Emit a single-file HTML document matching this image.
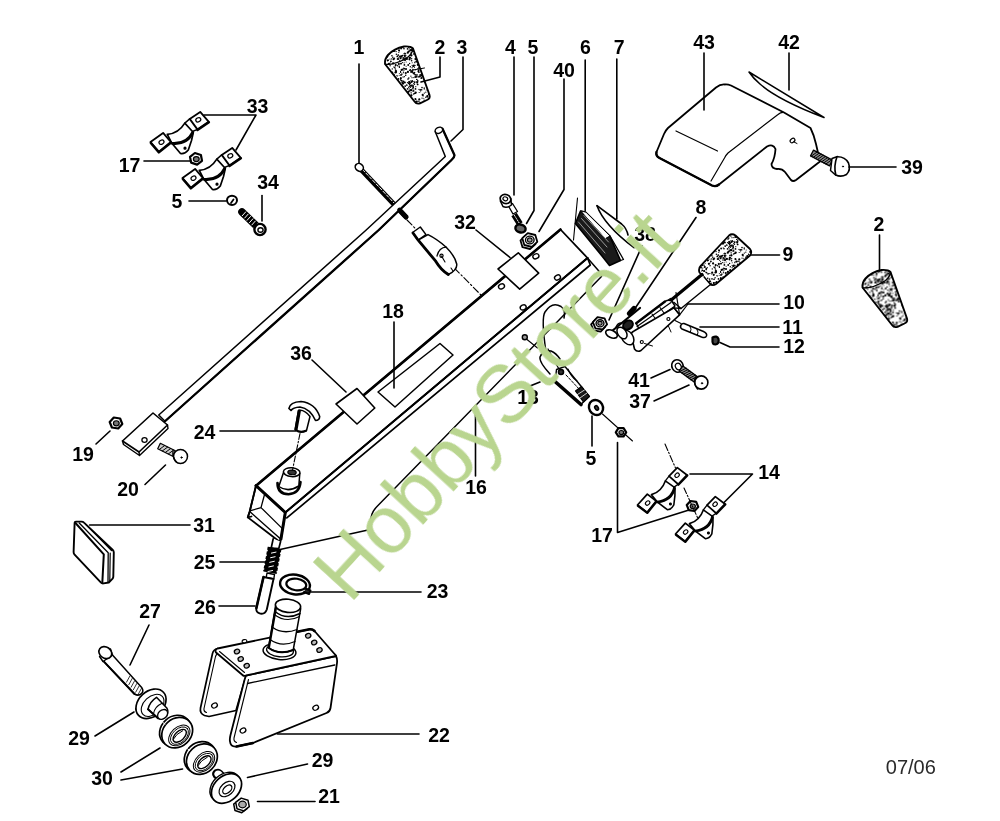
<!DOCTYPE html>
<html lang="it"><head><meta charset="utf-8"><title>HobbyStore.it - esploso 07/06</title>
<style>
html,body{margin:0;padding:0;background:#fff;}
body{width:1000px;height:821px;overflow:hidden;font-family:"Liberation Sans",sans-serif;}
svg{display:block}
.d *{stroke:#000;stroke-linecap:round;stroke-linejoin:round}
.lb text{font-family:"Liberation Sans",sans-serif;font-weight:bold;fill:#000;text-anchor:middle}
</style></head><body>
<svg width="1000" height="821" viewBox="0 0 1000 821">
<defs>
<pattern id="spk" width="40" height="40" patternUnits="userSpaceOnUse">
<rect width="40" height="40" fill="#fff" stroke="none"/>
<circle cx="13.0" cy="6.0" r="1.1" fill="#000" stroke="none"/>
<circle cx="1.9" cy="32.9" r="0.5" fill="#000" stroke="none"/>
<circle cx="14.6" cy="2.3" r="0.9" fill="#000" stroke="none"/>
<circle cx="8.6" cy="3.4" r="0.8" fill="#000" stroke="none"/>
<circle cx="2.8" cy="3.6" r="0.8" fill="#000" stroke="none"/>
<circle cx="2.4" cy="22.6" r="0.6" fill="#000" stroke="none"/>
<circle cx="25.2" cy="23.3" r="0.5" fill="#000" stroke="none"/>
<circle cx="23.1" cy="15.9" r="0.6" fill="#000" stroke="none"/>
<circle cx="1.9" cy="34.3" r="0.7" fill="#000" stroke="none"/>
<circle cx="16.8" cy="21.6" r="0.9" fill="#000" stroke="none"/>
<circle cx="12.3" cy="32.6" r="0.6" fill="#000" stroke="none"/>
<circle cx="4.1" cy="22.8" r="0.6" fill="#000" stroke="none"/>
<circle cx="14.9" cy="21.9" r="0.5" fill="#000" stroke="none"/>
<circle cx="22.6" cy="24.8" r="0.8" fill="#000" stroke="none"/>
<circle cx="27.2" cy="17.1" r="0.7" fill="#000" stroke="none"/>
<circle cx="18.6" cy="36.9" r="0.7" fill="#000" stroke="none"/>
<circle cx="12.0" cy="31.8" r="1.1" fill="#000" stroke="none"/>
<circle cx="31.2" cy="3.3" r="0.7" fill="#000" stroke="none"/>
<circle cx="21.0" cy="35.0" r="1.1" fill="#000" stroke="none"/>
<circle cx="18.0" cy="24.4" r="0.5" fill="#000" stroke="none"/>
<circle cx="4.7" cy="16.7" r="0.7" fill="#000" stroke="none"/>
<circle cx="6.1" cy="19.6" r="0.5" fill="#000" stroke="none"/>
<circle cx="38.5" cy="3.1" r="0.9" fill="#000" stroke="none"/>
<circle cx="22.9" cy="35.0" r="0.7" fill="#000" stroke="none"/>
<circle cx="13.6" cy="14.0" r="0.8" fill="#000" stroke="none"/>
<circle cx="23.2" cy="18.2" r="0.5" fill="#000" stroke="none"/>
<circle cx="37.8" cy="19.0" r="1.1" fill="#000" stroke="none"/>
<circle cx="2.6" cy="29.2" r="0.7" fill="#000" stroke="none"/>
<circle cx="25.9" cy="39.7" r="0.8" fill="#000" stroke="none"/>
<circle cx="11.4" cy="15.4" r="1.1" fill="#000" stroke="none"/>
<circle cx="13.9" cy="37.6" r="0.7" fill="#000" stroke="none"/>
<circle cx="6.7" cy="4.7" r="0.5" fill="#000" stroke="none"/>
<circle cx="8.7" cy="11.5" r="1.1" fill="#000" stroke="none"/>
<circle cx="9.9" cy="15.6" r="0.8" fill="#000" stroke="none"/>
<circle cx="3.2" cy="18.0" r="0.9" fill="#000" stroke="none"/>
<circle cx="11.1" cy="5.5" r="0.8" fill="#000" stroke="none"/>
<circle cx="34.6" cy="11.1" r="0.8" fill="#000" stroke="none"/>
<circle cx="39.5" cy="27.3" r="0.8" fill="#000" stroke="none"/>
<circle cx="38.3" cy="6.0" r="0.6" fill="#000" stroke="none"/>
<circle cx="6.1" cy="26.3" r="0.5" fill="#000" stroke="none"/>
<circle cx="19.4" cy="23.6" r="0.7" fill="#000" stroke="none"/>
<circle cx="11.3" cy="5.8" r="0.9" fill="#000" stroke="none"/>
<circle cx="14.8" cy="22.7" r="0.6" fill="#000" stroke="none"/>
<circle cx="27.6" cy="20.6" r="0.9" fill="#000" stroke="none"/>
<circle cx="26.2" cy="29.6" r="0.8" fill="#000" stroke="none"/>
<circle cx="36.0" cy="31.2" r="1.1" fill="#000" stroke="none"/>
<circle cx="31.9" cy="15.7" r="0.8" fill="#000" stroke="none"/>
<circle cx="15.8" cy="19.3" r="0.8" fill="#000" stroke="none"/>
<circle cx="2.5" cy="2.7" r="0.6" fill="#000" stroke="none"/>
<circle cx="17.6" cy="4.4" r="0.9" fill="#000" stroke="none"/>
<circle cx="2.1" cy="0.0" r="0.6" fill="#000" stroke="none"/>
<circle cx="21.5" cy="38.0" r="0.9" fill="#000" stroke="none"/>
<circle cx="1.0" cy="35.0" r="0.9" fill="#000" stroke="none"/>
<circle cx="15.0" cy="25.4" r="0.7" fill="#000" stroke="none"/>
<circle cx="24.1" cy="19.0" r="0.5" fill="#000" stroke="none"/>
<circle cx="34.0" cy="39.7" r="0.8" fill="#000" stroke="none"/>
<circle cx="19.2" cy="12.5" r="0.6" fill="#000" stroke="none"/>
<circle cx="4.1" cy="13.7" r="0.7" fill="#000" stroke="none"/>
<circle cx="19.1" cy="27.7" r="0.9" fill="#000" stroke="none"/>
<circle cx="0.9" cy="38.0" r="0.9" fill="#000" stroke="none"/>
<circle cx="14.5" cy="27.6" r="0.5" fill="#000" stroke="none"/>
<circle cx="30.3" cy="11.9" r="1.1" fill="#000" stroke="none"/>
<circle cx="34.5" cy="27.8" r="0.7" fill="#000" stroke="none"/>
<circle cx="20.7" cy="36.3" r="0.7" fill="#000" stroke="none"/>
<circle cx="30.9" cy="21.3" r="0.9" fill="#000" stroke="none"/>
<circle cx="13.2" cy="8.9" r="0.6" fill="#000" stroke="none"/>
<circle cx="32.2" cy="32.7" r="1.1" fill="#000" stroke="none"/>
<circle cx="32.1" cy="8.0" r="0.8" fill="#000" stroke="none"/>
<circle cx="14.2" cy="1.2" r="0.5" fill="#000" stroke="none"/>
<circle cx="31.6" cy="18.9" r="0.6" fill="#000" stroke="none"/>
<circle cx="27.7" cy="38.3" r="0.8" fill="#000" stroke="none"/>
<circle cx="32.3" cy="28.9" r="0.7" fill="#000" stroke="none"/>
<circle cx="38.2" cy="14.6" r="0.6" fill="#000" stroke="none"/>
<circle cx="4.1" cy="18.8" r="0.7" fill="#000" stroke="none"/>
<circle cx="8.2" cy="25.0" r="0.9" fill="#000" stroke="none"/>
<circle cx="33.6" cy="19.2" r="1.1" fill="#000" stroke="none"/>
<circle cx="13.8" cy="25.7" r="1.1" fill="#000" stroke="none"/>
<circle cx="4.8" cy="15.5" r="1.1" fill="#000" stroke="none"/>
<circle cx="30.0" cy="19.1" r="0.6" fill="#000" stroke="none"/>
<circle cx="17.4" cy="25.4" r="0.5" fill="#000" stroke="none"/>
<circle cx="32.0" cy="38.9" r="0.8" fill="#000" stroke="none"/>
<circle cx="18.5" cy="29.7" r="0.5" fill="#000" stroke="none"/>
<circle cx="29.0" cy="6.8" r="0.6" fill="#000" stroke="none"/>
<circle cx="1.1" cy="23.6" r="0.8" fill="#000" stroke="none"/>
<circle cx="32.3" cy="5.8" r="0.9" fill="#000" stroke="none"/>
<circle cx="39.2" cy="26.3" r="0.7" fill="#000" stroke="none"/>
<circle cx="6.2" cy="21.9" r="0.5" fill="#000" stroke="none"/>
<circle cx="0.6" cy="38.8" r="1.1" fill="#000" stroke="none"/>
<circle cx="4.1" cy="30.0" r="0.6" fill="#000" stroke="none"/>
<circle cx="17.4" cy="34.9" r="0.6" fill="#000" stroke="none"/>
<circle cx="1.1" cy="8.5" r="0.9" fill="#000" stroke="none"/>
<circle cx="9.6" cy="23.5" r="0.7" fill="#000" stroke="none"/>
<circle cx="21.8" cy="33.4" r="0.5" fill="#000" stroke="none"/>
<circle cx="36.4" cy="14.2" r="0.8" fill="#000" stroke="none"/>
<circle cx="26.5" cy="32.6" r="0.9" fill="#000" stroke="none"/>
<circle cx="16.8" cy="36.7" r="0.9" fill="#000" stroke="none"/>
<circle cx="5.2" cy="6.1" r="0.9" fill="#000" stroke="none"/>
<circle cx="0.7" cy="17.6" r="0.6" fill="#000" stroke="none"/>
<circle cx="24.3" cy="31.0" r="0.6" fill="#000" stroke="none"/>
<circle cx="6.9" cy="18.9" r="1.1" fill="#000" stroke="none"/>
<circle cx="4.8" cy="2.5" r="1.1" fill="#000" stroke="none"/>
<circle cx="20.7" cy="22.2" r="0.5" fill="#000" stroke="none"/>
<circle cx="35.3" cy="2.3" r="0.6" fill="#000" stroke="none"/>
<circle cx="11.1" cy="30.9" r="0.9" fill="#000" stroke="none"/>
<circle cx="18.1" cy="1.1" r="0.5" fill="#000" stroke="none"/>
<circle cx="17.7" cy="24.5" r="0.9" fill="#000" stroke="none"/>
<circle cx="24.2" cy="8.0" r="0.7" fill="#000" stroke="none"/>
<circle cx="18.1" cy="21.3" r="0.8" fill="#000" stroke="none"/>
<circle cx="20.3" cy="9.9" r="0.9" fill="#000" stroke="none"/>
<circle cx="35.1" cy="37.7" r="0.7" fill="#000" stroke="none"/>
<circle cx="36.9" cy="35.7" r="0.6" fill="#000" stroke="none"/>
<circle cx="33.6" cy="5.5" r="0.5" fill="#000" stroke="none"/>
<circle cx="15.7" cy="12.6" r="1.1" fill="#000" stroke="none"/>
<circle cx="9.6" cy="2.9" r="1.1" fill="#000" stroke="none"/>
<circle cx="12.1" cy="4.9" r="0.6" fill="#000" stroke="none"/>
<circle cx="37.6" cy="25.7" r="0.7" fill="#000" stroke="none"/>
<circle cx="5.7" cy="35.3" r="0.8" fill="#000" stroke="none"/>
<circle cx="8.8" cy="38.1" r="0.8" fill="#000" stroke="none"/>
<circle cx="35.4" cy="6.5" r="1.1" fill="#000" stroke="none"/>
<circle cx="33.3" cy="6.5" r="0.8" fill="#000" stroke="none"/>
<circle cx="39.8" cy="16.2" r="0.8" fill="#000" stroke="none"/>
<circle cx="7.8" cy="12.7" r="1.1" fill="#000" stroke="none"/>
<circle cx="14.6" cy="13.5" r="0.8" fill="#000" stroke="none"/>
<circle cx="17.6" cy="0.7" r="0.7" fill="#000" stroke="none"/>
<circle cx="20.7" cy="11.8" r="0.5" fill="#000" stroke="none"/>
<circle cx="4.5" cy="36.7" r="0.6" fill="#000" stroke="none"/>
<circle cx="38.9" cy="4.2" r="0.7" fill="#000" stroke="none"/>
<circle cx="10.9" cy="36.2" r="0.6" fill="#000" stroke="none"/>
<circle cx="10.8" cy="5.2" r="0.8" fill="#000" stroke="none"/>
<circle cx="34.0" cy="27.0" r="0.7" fill="#000" stroke="none"/>
<circle cx="16.2" cy="21.5" r="0.9" fill="#000" stroke="none"/>
<circle cx="22.8" cy="28.0" r="0.5" fill="#000" stroke="none"/>
<circle cx="11.2" cy="32.0" r="0.6" fill="#000" stroke="none"/>
<circle cx="17.0" cy="2.9" r="0.5" fill="#000" stroke="none"/>
<circle cx="25.4" cy="32.1" r="0.5" fill="#000" stroke="none"/>
<circle cx="24.3" cy="8.9" r="0.7" fill="#000" stroke="none"/>
<circle cx="34.5" cy="18.2" r="0.7" fill="#000" stroke="none"/>
<circle cx="39.8" cy="16.7" r="0.7" fill="#000" stroke="none"/>
<circle cx="24.9" cy="1.7" r="1.1" fill="#000" stroke="none"/>
<circle cx="9.5" cy="4.4" r="0.6" fill="#000" stroke="none"/>
<circle cx="10.5" cy="7.2" r="0.7" fill="#000" stroke="none"/>
<circle cx="25.1" cy="21.2" r="0.6" fill="#000" stroke="none"/>
<circle cx="11.6" cy="20.0" r="0.6" fill="#000" stroke="none"/>
<circle cx="10.8" cy="32.1" r="0.7" fill="#000" stroke="none"/>
<circle cx="1.5" cy="0.7" r="0.9" fill="#000" stroke="none"/>
<circle cx="22.0" cy="7.6" r="0.8" fill="#000" stroke="none"/>
<circle cx="9.8" cy="17.9" r="1.1" fill="#000" stroke="none"/>
<circle cx="32.8" cy="17.3" r="0.8" fill="#000" stroke="none"/>
<circle cx="21.8" cy="35.5" r="0.9" fill="#000" stroke="none"/>
<circle cx="12.3" cy="8.6" r="0.6" fill="#000" stroke="none"/>
<circle cx="13.7" cy="33.3" r="1.1" fill="#000" stroke="none"/>
<circle cx="29.2" cy="5.6" r="0.7" fill="#000" stroke="none"/>
<circle cx="39.3" cy="33.5" r="0.5" fill="#000" stroke="none"/>
<circle cx="2.8" cy="29.6" r="0.7" fill="#000" stroke="none"/>
<circle cx="17.2" cy="2.2" r="1.1" fill="#000" stroke="none"/>
<circle cx="33.7" cy="34.8" r="1.1" fill="#000" stroke="none"/>
<circle cx="38.8" cy="24.0" r="1.1" fill="#000" stroke="none"/>
<circle cx="11.7" cy="18.4" r="0.6" fill="#000" stroke="none"/>
<circle cx="10.8" cy="0.1" r="0.7" fill="#000" stroke="none"/>
<circle cx="38.5" cy="38.9" r="0.9" fill="#000" stroke="none"/>
<circle cx="12.9" cy="1.4" r="0.7" fill="#000" stroke="none"/>
<circle cx="8.7" cy="7.3" r="0.7" fill="#000" stroke="none"/>
<circle cx="15.3" cy="19.0" r="0.9" fill="#000" stroke="none"/>
<circle cx="26.2" cy="9.9" r="0.5" fill="#000" stroke="none"/>
<circle cx="3.6" cy="32.7" r="0.6" fill="#000" stroke="none"/>
<circle cx="16.0" cy="1.7" r="0.5" fill="#000" stroke="none"/>
<circle cx="12.0" cy="25.2" r="0.5" fill="#000" stroke="none"/>
<circle cx="23.4" cy="21.2" r="0.6" fill="#000" stroke="none"/>
<circle cx="26.3" cy="28.6" r="0.9" fill="#000" stroke="none"/>
<circle cx="15.6" cy="13.0" r="0.8" fill="#000" stroke="none"/>
<circle cx="6.0" cy="29.0" r="1.1" fill="#000" stroke="none"/>
<circle cx="5.8" cy="33.0" r="1.1" fill="#000" stroke="none"/>
<circle cx="35.7" cy="25.1" r="1.1" fill="#000" stroke="none"/>
<circle cx="28.0" cy="20.2" r="0.9" fill="#000" stroke="none"/>
<circle cx="30.1" cy="22.7" r="0.5" fill="#000" stroke="none"/>
<circle cx="33.1" cy="23.4" r="1.1" fill="#000" stroke="none"/>
<circle cx="27.3" cy="27.7" r="0.6" fill="#000" stroke="none"/>
<circle cx="3.4" cy="1.7" r="1.1" fill="#000" stroke="none"/>
<circle cx="14.4" cy="4.2" r="0.8" fill="#000" stroke="none"/>
<circle cx="22.3" cy="25.1" r="1.1" fill="#000" stroke="none"/>
<circle cx="21.3" cy="9.8" r="0.7" fill="#000" stroke="none"/>
<circle cx="0.1" cy="31.9" r="1.1" fill="#000" stroke="none"/>
<circle cx="37.3" cy="35.9" r="0.5" fill="#000" stroke="none"/>
<circle cx="26.4" cy="2.6" r="1.1" fill="#000" stroke="none"/>
<circle cx="19.0" cy="32.4" r="0.7" fill="#000" stroke="none"/>
<circle cx="9.4" cy="30.3" r="0.6" fill="#000" stroke="none"/>
<circle cx="29.6" cy="39.0" r="0.8" fill="#000" stroke="none"/>
<circle cx="33.8" cy="3.1" r="1.1" fill="#000" stroke="none"/>
<circle cx="11.5" cy="1.9" r="1.1" fill="#000" stroke="none"/>
<circle cx="25.7" cy="3.1" r="0.6" fill="#000" stroke="none"/>
<circle cx="13.3" cy="26.1" r="1.1" fill="#000" stroke="none"/>
<circle cx="12.2" cy="22.7" r="0.5" fill="#000" stroke="none"/>
<circle cx="19.3" cy="19.4" r="1.1" fill="#000" stroke="none"/>
<circle cx="4.0" cy="8.7" r="0.8" fill="#000" stroke="none"/>
<circle cx="11.6" cy="20.7" r="0.8" fill="#000" stroke="none"/>
<circle cx="18.6" cy="30.7" r="0.9" fill="#000" stroke="none"/>
<circle cx="8.0" cy="39.1" r="0.8" fill="#000" stroke="none"/>
<circle cx="0.7" cy="18.4" r="0.9" fill="#000" stroke="none"/>
<circle cx="38.7" cy="18.0" r="0.7" fill="#000" stroke="none"/>
<circle cx="15.5" cy="36.7" r="0.6" fill="#000" stroke="none"/>
<circle cx="3.0" cy="3.6" r="1.1" fill="#000" stroke="none"/>
<circle cx="21.0" cy="38.1" r="0.6" fill="#000" stroke="none"/>
<circle cx="24.1" cy="25.3" r="0.7" fill="#000" stroke="none"/>
<circle cx="35.5" cy="28.1" r="0.6" fill="#000" stroke="none"/>
<circle cx="19.9" cy="35.0" r="0.8" fill="#000" stroke="none"/>
<circle cx="1.0" cy="0.1" r="0.8" fill="#000" stroke="none"/>
<circle cx="27.3" cy="16.2" r="1.1" fill="#000" stroke="none"/>
<circle cx="5.6" cy="13.8" r="0.7" fill="#000" stroke="none"/>
<circle cx="4.8" cy="13.3" r="0.7" fill="#000" stroke="none"/>
<circle cx="30.0" cy="33.6" r="0.5" fill="#000" stroke="none"/>
<circle cx="37.6" cy="7.8" r="0.5" fill="#000" stroke="none"/>
<circle cx="36.1" cy="11.6" r="0.7" fill="#000" stroke="none"/>
<circle cx="2.6" cy="15.6" r="0.9" fill="#000" stroke="none"/>
<circle cx="3.1" cy="37.0" r="0.7" fill="#000" stroke="none"/>
<circle cx="34.2" cy="11.2" r="0.5" fill="#000" stroke="none"/>
<circle cx="33.4" cy="11.4" r="0.6" fill="#000" stroke="none"/>
<circle cx="10.0" cy="10.6" r="0.9" fill="#000" stroke="none"/>
<circle cx="12.6" cy="30.9" r="0.8" fill="#000" stroke="none"/>
<circle cx="35.4" cy="32.5" r="1.1" fill="#000" stroke="none"/>
<circle cx="16.0" cy="35.0" r="0.9" fill="#000" stroke="none"/>
<circle cx="22.0" cy="28.8" r="0.5" fill="#000" stroke="none"/>
<circle cx="37.3" cy="16.4" r="0.9" fill="#000" stroke="none"/>
<circle cx="30.1" cy="25.8" r="0.7" fill="#000" stroke="none"/>
<circle cx="19.4" cy="36.5" r="0.9" fill="#000" stroke="none"/>
<circle cx="5.1" cy="18.9" r="0.7" fill="#000" stroke="none"/>
<circle cx="11.3" cy="10.2" r="1.1" fill="#000" stroke="none"/>
<circle cx="39.1" cy="10.4" r="1.1" fill="#000" stroke="none"/>
<circle cx="9.5" cy="19.3" r="1.1" fill="#000" stroke="none"/>
<circle cx="15.8" cy="6.7" r="0.6" fill="#000" stroke="none"/>
<circle cx="3.0" cy="20.0" r="0.8" fill="#000" stroke="none"/>
<circle cx="22.0" cy="18.1" r="0.7" fill="#000" stroke="none"/>
<circle cx="39.9" cy="18.0" r="0.6" fill="#000" stroke="none"/>
<circle cx="21.9" cy="9.8" r="0.6" fill="#000" stroke="none"/>
<circle cx="13.7" cy="3.6" r="0.6" fill="#000" stroke="none"/>
<circle cx="14.7" cy="32.4" r="0.6" fill="#000" stroke="none"/>
<circle cx="35.5" cy="30.0" r="0.8" fill="#000" stroke="none"/>
<circle cx="15.3" cy="29.8" r="0.6" fill="#000" stroke="none"/>
<circle cx="15.1" cy="13.5" r="0.5" fill="#000" stroke="none"/>
<circle cx="19.9" cy="23.0" r="0.7" fill="#000" stroke="none"/>
<circle cx="5.0" cy="20.1" r="1.1" fill="#000" stroke="none"/>
<circle cx="31.6" cy="33.9" r="0.5" fill="#000" stroke="none"/>
<circle cx="10.8" cy="9.9" r="0.8" fill="#000" stroke="none"/>
<circle cx="25.8" cy="17.3" r="0.7" fill="#000" stroke="none"/>
<circle cx="33.9" cy="34.9" r="0.5" fill="#000" stroke="none"/>
<circle cx="5.1" cy="17.0" r="0.8" fill="#000" stroke="none"/>
<circle cx="38.7" cy="19.6" r="0.5" fill="#000" stroke="none"/>
<circle cx="15.7" cy="37.1" r="0.9" fill="#000" stroke="none"/>
<circle cx="34.2" cy="38.9" r="0.6" fill="#000" stroke="none"/>
<circle cx="31.3" cy="9.0" r="0.6" fill="#000" stroke="none"/>
<circle cx="20.9" cy="27.3" r="1.1" fill="#000" stroke="none"/>
<circle cx="28.0" cy="33.9" r="0.8" fill="#000" stroke="none"/>
<circle cx="3.4" cy="31.1" r="0.5" fill="#000" stroke="none"/>
<circle cx="31.3" cy="9.3" r="0.5" fill="#000" stroke="none"/>
<circle cx="25.8" cy="12.2" r="0.6" fill="#000" stroke="none"/>
<circle cx="25.1" cy="21.1" r="0.8" fill="#000" stroke="none"/>
<circle cx="27.9" cy="4.5" r="0.5" fill="#000" stroke="none"/>
<circle cx="12.0" cy="37.7" r="0.6" fill="#000" stroke="none"/>
<circle cx="15.5" cy="8.9" r="0.9" fill="#000" stroke="none"/>
<circle cx="0.0" cy="21.5" r="0.8" fill="#000" stroke="none"/>
<circle cx="11.1" cy="12.7" r="0.6" fill="#000" stroke="none"/>
<circle cx="19.0" cy="9.4" r="0.6" fill="#000" stroke="none"/>
<circle cx="1.2" cy="16.5" r="1.1" fill="#000" stroke="none"/>
<circle cx="12.3" cy="0.9" r="0.8" fill="#000" stroke="none"/>
<circle cx="35.4" cy="25.9" r="0.5" fill="#000" stroke="none"/>
<circle cx="10.3" cy="26.7" r="0.7" fill="#000" stroke="none"/>
<circle cx="9.1" cy="1.4" r="0.7" fill="#000" stroke="none"/>
<circle cx="28.7" cy="14.5" r="0.8" fill="#000" stroke="none"/>
<circle cx="7.9" cy="31.9" r="1.1" fill="#000" stroke="none"/>
<circle cx="33.8" cy="2.7" r="0.8" fill="#000" stroke="none"/>
<circle cx="38.8" cy="12.5" r="0.6" fill="#000" stroke="none"/>
<circle cx="9.2" cy="8.9" r="0.7" fill="#000" stroke="none"/>
<circle cx="4.4" cy="24.9" r="0.9" fill="#000" stroke="none"/>
<circle cx="7.5" cy="8.9" r="0.8" fill="#000" stroke="none"/>
<circle cx="36.4" cy="2.3" r="0.9" fill="#000" stroke="none"/>
<circle cx="5.9" cy="15.7" r="0.6" fill="#000" stroke="none"/>
<circle cx="0.9" cy="23.8" r="0.8" fill="#000" stroke="none"/>
<circle cx="2.1" cy="2.4" r="0.8" fill="#000" stroke="none"/>
<circle cx="18.0" cy="28.5" r="0.7" fill="#000" stroke="none"/>
<circle cx="29.3" cy="39.9" r="0.6" fill="#000" stroke="none"/>
<circle cx="13.2" cy="7.4" r="0.9" fill="#000" stroke="none"/>
<circle cx="29.9" cy="1.3" r="1.1" fill="#000" stroke="none"/>
<circle cx="29.0" cy="33.6" r="0.7" fill="#000" stroke="none"/>
<circle cx="17.7" cy="4.4" r="0.5" fill="#000" stroke="none"/>
<circle cx="11.2" cy="14.1" r="0.5" fill="#000" stroke="none"/>
<circle cx="22.4" cy="30.4" r="0.8" fill="#000" stroke="none"/>
<circle cx="14.3" cy="32.9" r="0.8" fill="#000" stroke="none"/>
<circle cx="3.5" cy="28.2" r="0.6" fill="#000" stroke="none"/>
<circle cx="14.9" cy="36.8" r="0.6" fill="#000" stroke="none"/>
<circle cx="12.9" cy="29.5" r="0.8" fill="#000" stroke="none"/>
<circle cx="1.2" cy="16.4" r="1.1" fill="#000" stroke="none"/>
<circle cx="30.7" cy="1.6" r="0.5" fill="#000" stroke="none"/>
<circle cx="18.6" cy="32.1" r="0.5" fill="#000" stroke="none"/>
<circle cx="10.3" cy="29.9" r="0.9" fill="#000" stroke="none"/>
<circle cx="13.6" cy="10.9" r="0.9" fill="#000" stroke="none"/>
<circle cx="1.7" cy="29.9" r="1.1" fill="#000" stroke="none"/>
<circle cx="12.7" cy="11.0" r="0.5" fill="#000" stroke="none"/>
<circle cx="28.9" cy="23.8" r="1.1" fill="#000" stroke="none"/>
<circle cx="37.9" cy="2.6" r="0.6" fill="#000" stroke="none"/>
<circle cx="4.3" cy="28.6" r="0.8" fill="#000" stroke="none"/>
<circle cx="38.2" cy="15.5" r="0.7" fill="#000" stroke="none"/>
<circle cx="36.5" cy="32.6" r="0.6" fill="#000" stroke="none"/>
<circle cx="37.1" cy="7.3" r="1.1" fill="#000" stroke="none"/>
<circle cx="12.1" cy="27.7" r="0.6" fill="#000" stroke="none"/>
<circle cx="24.3" cy="13.1" r="0.7" fill="#000" stroke="none"/>
<circle cx="18.4" cy="31.4" r="0.9" fill="#000" stroke="none"/>
<circle cx="3.2" cy="7.9" r="0.6" fill="#000" stroke="none"/>
<circle cx="9.9" cy="2.6" r="0.5" fill="#000" stroke="none"/>
<circle cx="19.3" cy="21.8" r="0.6" fill="#000" stroke="none"/>
<circle cx="39.2" cy="35.3" r="0.5" fill="#000" stroke="none"/>
<circle cx="10.6" cy="3.4" r="0.5" fill="#000" stroke="none"/>
<circle cx="16.8" cy="39.5" r="0.8" fill="#000" stroke="none"/>
<circle cx="6.9" cy="5.3" r="0.8" fill="#000" stroke="none"/>
<circle cx="24.8" cy="27.0" r="1.1" fill="#000" stroke="none"/>
<circle cx="21.5" cy="31.0" r="0.5" fill="#000" stroke="none"/>
<circle cx="31.2" cy="11.8" r="0.7" fill="#000" stroke="none"/>
<circle cx="22.7" cy="14.9" r="1.1" fill="#000" stroke="none"/>
<circle cx="10.4" cy="17.6" r="0.6" fill="#000" stroke="none"/>
<circle cx="9.8" cy="6.1" r="0.9" fill="#000" stroke="none"/>
<circle cx="7.5" cy="2.6" r="0.7" fill="#000" stroke="none"/>
<circle cx="39.7" cy="20.3" r="0.6" fill="#000" stroke="none"/>
<circle cx="26.0" cy="4.0" r="0.8" fill="#000" stroke="none"/>
<circle cx="39.6" cy="4.1" r="0.8" fill="#000" stroke="none"/>
<circle cx="35.3" cy="9.2" r="0.8" fill="#000" stroke="none"/>
<circle cx="36.6" cy="1.6" r="0.7" fill="#000" stroke="none"/>
<circle cx="9.3" cy="2.0" r="0.9" fill="#000" stroke="none"/>
<circle cx="38.9" cy="23.3" r="0.5" fill="#000" stroke="none"/>
<circle cx="14.9" cy="34.6" r="0.8" fill="#000" stroke="none"/>
<circle cx="24.1" cy="31.0" r="1.1" fill="#000" stroke="none"/>
<circle cx="37.8" cy="4.2" r="0.9" fill="#000" stroke="none"/>
<circle cx="28.4" cy="14.0" r="0.5" fill="#000" stroke="none"/>
</pattern><clipPath id="c38"><rect x="630" y="225" width="30" height="13"/></clipPath>
</defs>
<rect width="1000" height="821" fill="#fff"/>
<g class="d" fill="none">
<path d="M361,169.5 L406,217" stroke-width="5.0" fill="none" />
<path d="M362.5,169.5 L396,205" stroke-width="1.0" fill="none" style="stroke:#fff" stroke-dasharray="3 2"/>
<ellipse cx="359.3" cy="167.4" rx="4.3" ry="3.7" transform="rotate(40 359.3 167.4)" stroke-width="1.6" fill="#fff"/>
<path d="M435.3,131.8 L445.3,156.5 L366.2,230 L158.75,415 L165,421.25 L378.75,230 L451.5,160 Q455,157 454.3,154.8 L442.5,128.8 Z" stroke-width="1.5" fill="#fff" />
<path d="M442.5,128.8 L454.3,154.8 Q455,157 451.5,160 L378.75,230 L165,421.25" stroke-width="2.3" fill="none" />
<ellipse cx="438.9" cy="130.3" rx="3.9" ry="2.9" transform="rotate(-25 438.9 130.3)" stroke-width="1.5" fill="#fff"/>
<path d="M399.5,210 L406,217" stroke-width="4.6" fill="none" />
<path d="M407,220 L481,295" stroke-width="1.1" fill="none" stroke-dasharray="7 2.5 1.5 2.5"/>
<polygon points="412.6,232.5 420.3,227 426,234.6 418.2,240.2" stroke-width="1.5" fill="#fff" />
<path d="M418.2,240.2 L428,234.6 Q437,239 446.2,247.2 Q455,256 456.7,264 Q457.5,270 448.3,274.5 Q441,270 435.7,261.2 Z" stroke-width="1.5" fill="#fff" />
<path d="M413,233 L418.2,240.2 L435.7,261.2 Q441,270 448.3,274.5" stroke-width="2.8" fill="none" />
<path d="M437,256 Q439,247.5 446.2,247.2" stroke-width="1.3" fill="none" />
<circle cx="441.5" cy="255.8" r="1.6" stroke-width="1.2" fill="#fff"/>
<path d="M441.5,256 L445,262 M451,268 L453,271" stroke-width="1.1" fill="none" />
<polygon points="256,485.7 560.5,229.5 587.5,258 285.3,512.5" stroke-width="1.8" fill="#fff" />
<path d="M256,485.7 L560.5,229.5" stroke-width="2.6" fill="none" />
<path d="M285.3,512.5 L587.5,258" stroke-width="2.0" fill="none" />
<path d="M286.8,517.9 L590.3,265 L587.5,258" stroke-width="1.7" fill="none" />
<polygon points="256,485.7 249.7,511.5 247.8,517.4 279,541.3 280.9,539.3 285.3,512.5" stroke-width="1.8" fill="#fff" />
<path d="M256,485.7 L285.3,512.5 L280.9,539.3" stroke-width="3.0" fill="none" />
<path d="M249.7,511.5 L280.9,539.3" stroke-width="1.4" fill="none" />
<path d="M264.4,495 L261,507.6 L250.7,510.6 M261,507.6 L281.9,528.1" stroke-width="1.3" fill="none" />
<path d="M256,485.7 L249.7,511.5 L247.8,517.4 L251.5,516.5" stroke-width="1.8" fill="none" />
<polygon points="498,269 518.3,252.8 538.7,273.1 519.7,289.2" stroke-width="1.6" fill="#fff" />
<polygon points="336,404 357,388.5 374.8,408 357,424" stroke-width="1.6" fill="#fff" />
<polygon points="378,392 440,343.5 453,355 395,407" stroke-width="1.5" fill="#fff" />
<ellipse cx="501.5" cy="286.4" rx="3.1" ry="2.4" transform="rotate(-25 501.5 286.4)" stroke-width="1.4" fill="#fff"/>
<ellipse cx="523.2" cy="307.4" rx="3.1" ry="2.4" transform="rotate(-25 523.2 307.4)" stroke-width="1.4" fill="#fff"/>
<ellipse cx="535.9" cy="256.3" rx="3.1" ry="2.4" transform="rotate(-25 535.9 256.3)" stroke-width="1.4" fill="#fff"/>
<ellipse cx="557.5" cy="277.5" rx="3.1" ry="2.4" transform="rotate(-25 557.5 277.5)" stroke-width="1.4" fill="#fff"/>
<path d="M277.5,483 Q277.5,494 288.5,494.3 Q299.5,493.5 300.5,482" stroke-width="2.6" fill="none" />
<path d="M283.5,472.5 L278.8,486.5 Q288,493 298.8,486 L299.8,473.5 Z" stroke-width="1.5" fill="#fff" />
<ellipse cx="291.7" cy="472.2" rx="8.3" ry="4.4" transform="rotate(5 291.7 472.2)" stroke-width="1.5" fill="#fff"/>
<ellipse cx="292" cy="472.4" rx="4.2" ry="2.3" transform="rotate(5 292 472.4)" stroke-width="1.2" fill="#333"/>
<path d="M300,433.5 L292.5,470" stroke-width="1.1" fill="none" stroke-dasharray="6 2 1.5 2"/>
<path d="M288.9,408.5 Q290,402 301,401.5 Q315,403 319.7,416.5 Q319.5,420.5 315.5,420.5 Q310,408.5 300,407 Q293,407.5 291,410.5 Z" stroke-width="1.6" fill="#fff" />
<path d="M298.5,410.5 L295.2,429.5 Q300,433.5 306.5,430.5 L310,416.5 Q304,409 298.5,410.5 Z" stroke-width="1.5" fill="#fff" />
<path d="M299.3,411 L296,429.5" stroke-width="3.2" fill="none" />
<path d="M296,430 Q300,433.5 306,430.8" stroke-width="2.2" fill="none" />
<path d="M280,549.6 L368,530 L372,514 Q373.5,510 377,506.5 L601,277 Q602.5,275 601,273.5 L587.5,258" stroke-width="1.5" fill="none" />
<path d="M546,352 Q541,318 545,312 Q552,301 561,306.5 Q566,310 564,318" stroke-width="1.5" fill="none" />
<path d="M548,349 L560,371" stroke-width="1.3" fill="none" />
<g transform="translate(150.5 142) rotate(0) scale(1.0)">
<path d="M22,2 L30,11.5 Q34,12.5 37.8,8 L41,-1.5 L42.7,-9 Z" stroke-width="1.7" fill="#fff" />
<circle cx="34.5" cy="6.2" r="1.0" stroke-width="1.2" fill="#000"/>
<path d="M16.8,-7.7 Q28,-8.5 34.3,-18.9 L42,-10.5 Q36,2 21,0.7 Z" stroke-width="1.7" fill="#fff" />
<path d="M21.5,1.6 Q37,3.2 42.6,-9.6" stroke-width="2.2" fill="none" />
<polygon points="0,0 12.6,-9.1 20.3,0 8.4,9.8" stroke-width="1.8" fill="#fff" />
<path d="M0.3,1 L8.4,10.4 L20.6,0.6" stroke-width="2.4" fill="none" />
<ellipse cx="11.0" cy="0.2" rx="2.6" ry="2.0" transform="rotate(-30 11.0 0.2)" stroke-width="1.2" fill="#fff"/>
<polygon points="39.2,-23.1 49.7,-30.1 58.1,-20.3 46.9,-12.6" stroke-width="1.8" fill="#fff" />
<path d="M47,-12 L58.4,-19.8" stroke-width="2.4" fill="none" />
<path d="M34.3,-18.9 L39.2,-23.1 M42,-10.5 L46.9,-12.6" stroke-width="1.4" fill="none" />
<ellipse cx="47.8" cy="-22.2" rx="2.6" ry="2.0" transform="rotate(-30 47.8 -22.2)" stroke-width="1.2" fill="#fff"/>
</g>
<g transform="translate(182.5 178) rotate(0) scale(1.0)">
<path d="M22,2 L30,11.5 Q34,12.5 37.8,8 L41,-1.5 L42.7,-9 Z" stroke-width="1.7" fill="#fff" />
<circle cx="34.5" cy="6.2" r="1.0" stroke-width="1.2" fill="#000"/>
<path d="M16.8,-7.7 Q28,-8.5 34.3,-18.9 L42,-10.5 Q36,2 21,0.7 Z" stroke-width="1.7" fill="#fff" />
<path d="M21.5,1.6 Q37,3.2 42.6,-9.6" stroke-width="2.2" fill="none" />
<polygon points="0,0 12.6,-9.1 20.3,0 8.4,9.8" stroke-width="1.8" fill="#fff" />
<path d="M0.3,1 L8.4,10.4 L20.6,0.6" stroke-width="2.4" fill="none" />
<ellipse cx="11.0" cy="0.2" rx="2.6" ry="2.0" transform="rotate(-30 11.0 0.2)" stroke-width="1.2" fill="#fff"/>
<polygon points="39.2,-23.1 49.7,-30.1 58.1,-20.3 46.9,-12.6" stroke-width="1.8" fill="#fff" />
<path d="M47,-12 L58.4,-19.8" stroke-width="2.4" fill="none" />
<path d="M34.3,-18.9 L39.2,-23.1 M42,-10.5 L46.9,-12.6" stroke-width="1.4" fill="none" />
<ellipse cx="47.8" cy="-22.2" rx="2.6" ry="2.0" transform="rotate(-30 47.8 -22.2)" stroke-width="1.2" fill="#fff"/>
</g>
<polygon points="202.0,160.8 197.1,164.6 191.1,162.6 190.0,156.8 194.9,153.0 200.9,155.0" stroke-width="2.2" fill="#fff" />
<ellipse cx="196.3" cy="159.10000000000002" rx="2.8800000000000003" ry="2.5600000000000005" transform="rotate(0 196.3 159.10000000000002)" stroke-width="1.2" fill="#777"/>
<ellipse cx="232" cy="200.3" rx="5" ry="4.6" transform="rotate(0 232 200.3)" stroke-width="2.0" fill="#fff"/>
<path d="M231,203 L233.5,199.5" stroke-width="1.8" fill="none" />
<g transform="translate(637.5 505) rotate(-12) scale(0.94)">
<path d="M22,2 L30,11.5 Q34,12.5 37.8,8 L41,-1.5 L42.7,-9 Z" stroke-width="1.7" fill="#fff" />
<circle cx="34.5" cy="6.2" r="1.0" stroke-width="1.2" fill="#000"/>
<path d="M16.8,-7.7 Q28,-8.5 34.3,-18.9 L42,-10.5 Q36,2 21,0.7 Z" stroke-width="1.7" fill="#fff" />
<path d="M21.5,1.6 Q37,3.2 42.6,-9.6" stroke-width="2.2" fill="none" />
<polygon points="0,0 12.6,-9.1 20.3,0 8.4,9.8" stroke-width="1.8" fill="#fff" />
<path d="M0.3,1 L8.4,10.4 L20.6,0.6" stroke-width="2.4" fill="none" />
<ellipse cx="11.0" cy="0.2" rx="2.6" ry="2.0" transform="rotate(-30 11.0 0.2)" stroke-width="1.2" fill="#fff"/>
<polygon points="39.2,-23.1 49.7,-30.1 58.1,-20.3 46.9,-12.6" stroke-width="1.8" fill="#fff" />
<path d="M47,-12 L58.4,-19.8" stroke-width="2.4" fill="none" />
<path d="M34.3,-18.9 L39.2,-23.1 M42,-10.5 L46.9,-12.6" stroke-width="1.4" fill="none" />
<ellipse cx="47.8" cy="-22.2" rx="2.6" ry="2.0" transform="rotate(-30 47.8 -22.2)" stroke-width="1.2" fill="#fff"/>
</g>
<g transform="translate(675.5 534) rotate(-12) scale(0.94)">
<path d="M22,2 L30,11.5 Q34,12.5 37.8,8 L41,-1.5 L42.7,-9 Z" stroke-width="1.7" fill="#fff" />
<circle cx="34.5" cy="6.2" r="1.0" stroke-width="1.2" fill="#000"/>
<path d="M16.8,-7.7 Q28,-8.5 34.3,-18.9 L42,-10.5 Q36,2 21,0.7 Z" stroke-width="1.7" fill="#fff" />
<path d="M21.5,1.6 Q37,3.2 42.6,-9.6" stroke-width="2.2" fill="none" />
<polygon points="0,0 12.6,-9.1 20.3,0 8.4,9.8" stroke-width="1.8" fill="#fff" />
<path d="M0.3,1 L8.4,10.4 L20.6,0.6" stroke-width="2.4" fill="none" />
<ellipse cx="11.0" cy="0.2" rx="2.6" ry="2.0" transform="rotate(-30 11.0 0.2)" stroke-width="1.2" fill="#fff"/>
<polygon points="39.2,-23.1 49.7,-30.1 58.1,-20.3 46.9,-12.6" stroke-width="1.8" fill="#fff" />
<path d="M47,-12 L58.4,-19.8" stroke-width="2.4" fill="none" />
<path d="M34.3,-18.9 L39.2,-23.1 M42,-10.5 L46.9,-12.6" stroke-width="1.4" fill="none" />
<ellipse cx="47.8" cy="-22.2" rx="2.6" ry="2.0" transform="rotate(-30 47.8 -22.2)" stroke-width="1.2" fill="#fff"/>
</g>
<polygon points="698.2,506.9 694.5,511.0 688.8,510.1 686.8,505.1 690.5,501.0 696.2,501.9" stroke-width="2.2" fill="#fff" />
<ellipse cx="692.8" cy="506.3" rx="2.61" ry="2.32" transform="rotate(0 692.8 506.3)" stroke-width="1.2" fill="#777"/>
<path d="M665,444 L675.5,468" stroke-width="1.1" fill="none" stroke-dasharray="7 2 1.5 2"/>
<path d="M684,488 L697.5,517.5" stroke-width="1.1" fill="none" stroke-dasharray="6 2 1.5 2"/>
<path d="M242,212 L257,226.5" stroke-width="7.6" fill="none" />
<line x1="245.7" y1="211.9" x2="242.3" y2="215.7" stroke-width="1.0" style="stroke:#fff"/>
<line x1="248.1" y1="214.2" x2="244.7" y2="218.0" stroke-width="1.0" style="stroke:#fff"/>
<line x1="250.5" y1="216.5" x2="247.1" y2="220.3" stroke-width="1.0" style="stroke:#fff"/>
<line x1="252.9" y1="218.8" x2="249.5" y2="222.6" stroke-width="1.0" style="stroke:#fff"/>
<line x1="255.3" y1="221.1" x2="251.9" y2="224.9" stroke-width="1.0" style="stroke:#fff"/>
<line x1="257.7" y1="223.4" x2="254.3" y2="227.2" stroke-width="1.0" style="stroke:#fff"/>
<circle cx="260" cy="229.5" r="5.6" stroke-width="2.4" fill="#fff"/>
<ellipse cx="260.5" cy="230" rx="2.6" ry="2.2" transform="rotate(0 260.5 230)" stroke-width="1.4" fill="#fff"/>
<polygon points="122.3,424.0 118.2,428.5 111.9,427.5 109.7,422.0 113.8,417.5 120.1,418.5" stroke-width="2.2" fill="#fff" />
<ellipse cx="116.3" cy="423.3" rx="2.8800000000000003" ry="2.5600000000000005" transform="rotate(0 116.3 423.3)" stroke-width="1.2" fill="#777"/>
<polygon points="153,413 167.5,425 139,452 122.5,441" stroke-width="1.6" fill="#fff" />
<path d="M122.5,441 L123.5,444.5 L139.5,455.5 L139,452 M139.5,455.5 L168,428.5 L167.5,425" stroke-width="1.4" fill="none" />
<ellipse cx="144.5" cy="440" rx="2.6" ry="2.4" transform="rotate(0 144.5 440)" stroke-width="1.3" fill="#fff"/>
<polygon points="157.7,448.7 172.7,456.2 175.3,450.8 160.3,443.3" stroke-width="1.2" fill="#ccc" />
<line x1="159.3" y1="449.5" x2="164.7" y2="445.5" stroke-width="1.0" />
<line x1="162.3" y1="451.0" x2="167.7" y2="447.0" stroke-width="1.0" />
<line x1="165.3" y1="452.5" x2="170.7" y2="448.5" stroke-width="1.0" />
<line x1="168.3" y1="454.0" x2="173.7" y2="450.0" stroke-width="1.0" />
<circle cx="180.5" cy="456.5" r="7" stroke-width="1.5" fill="#fff"/>
<circle cx="181.5" cy="457.5" r="0.7" stroke-width="0.8" fill="#000"/>
<path d="M173,451 Q172,457 176.5,462" stroke-width="1.3" fill="none" />
<path d="M76,521.6 Q74.6,521.6 74.6,523.5 L73.6,552 Q73.6,553.6 74.6,554.7 L101,582.6 Q102,583.6 103.5,583.4 L108.8,582.5 L112.6,578.6 Q113.3,577.8 113.3,576.5 L113.8,552.5 Q113.8,551 112.8,550 L84,522.6 Q83,521.6 81.5,521.6 Z" stroke-width="1.9" fill="#fff" />
<path d="M75,522.5 L103.8,554.3 L102.3,583" stroke-width="2.0" fill="none" />
<path d="M79.2,523 L108.2,552.7 L108.0,582.3" stroke-width="1.3" fill="none" />
<path d="M86.3,524.8 L111.5,550.5 M110.2,553.2 L109.8,580.8" stroke-width="1.2" fill="none" />
<path d="M508.5,206 L513,214 L517.5,211.5 L512.5,203.5 Z" stroke-width="1.3" fill="#fff" />
<path d="M514,214.5 L520,224" stroke-width="6.2" fill="none" style="stroke-linecap:butt"/>
<path d="M514.5,215.5 L519.5,223.5" stroke-width="1.0" fill="none" style="stroke:#fff" stroke-dasharray="1 1.5"/>
<path d="M500.3,201 L503,206.5 Q507,208.5 511.5,205 L510.8,198.5" stroke-width="1.5" fill="#fff" />
<ellipse cx="505.5" cy="199" rx="5.4" ry="4.5" transform="rotate(20 505.5 199)" stroke-width="1.7" fill="#fff"/>
<ellipse cx="505.3" cy="198.8" rx="2.4" ry="1.9" transform="rotate(20 505.3 198.8)" stroke-width="1.2" fill="#fff"/>
<ellipse cx="520.5" cy="228.5" rx="5.2" ry="3.9" transform="rotate(15 520.5 228.5)" stroke-width="2.4" fill="#666"/>
<polygon points="535.5,244.0 530.0,249.0 522.5,247.2 520.5,240.4 526.0,235.4 533.5,237.2" stroke-width="1.8" fill="#fff" />
<polygon points="537.3,241.8 531.8,246.8 524.3,245.0 522.3,238.2 527.8,233.2 535.3,235.0" stroke-width="1.8" fill="#fff" />
<ellipse cx="529.8" cy="240" rx="4.29" ry="3.9" transform="rotate(0 529.8 240)" stroke-width="1.4" fill="#fff"/>
<ellipse cx="529.8" cy="240" rx="2.34" ry="2.106" transform="rotate(0 529.8 240)" stroke-width="1.1" fill="#999"/>
<path d="M577.5,198 L573.5,240" stroke-width="1.1" fill="none" />
<polygon points="575.4,223.5 580.5,211 585.5,212 609.7,235.8 620.5,260.5 609.5,265.5 602,256" stroke-width="1.6" fill="#1a1a1a" />
<path d="M581,211 L586,212.2 L610,236 L605.5,238.5 Z" stroke-width="1.0" fill="#fff" />
<path d="M578.5,222 L605,253" stroke-width="0.8" fill="none" style="stroke:#bbb"/>
<path d="M581.5,218.5 L607,247" stroke-width="0.8" fill="none" style="stroke:#bbb"/>
<path d="M584,215.5 L608.5,242" stroke-width="0.8" fill="none" style="stroke:#bbb"/>
<path d="M610,236 L623.5,259.5 L620.5,260.5" stroke-width="1.3" fill="none" />
<path d="M597,205.7 L621.6,224 Q626.5,228 628,235" stroke-width="1.6" fill="none" />
<path d="M597,205.7 Q604,225 634,247.7" stroke-width="1.6" fill="none" />
<path d="M699.5,272.5 Q698,268.5 701,265.5 L729,235.5 Q732,233 735.5,235.5 L750,249 Q752.5,252 750,255.5 L716,284 Q712.5,286.5 709.5,283.5 Z" stroke-width="1.8" fill="url(#spk)" />
<path d="M671.2,300 L702,274.5 L710.5,284.5 L681,308.5 Z" stroke-width="1.4" fill="#fff" />
<path d="M671.2,300 L702,274.5" stroke-width="3.2" fill="none" />
<path d="M673.5,301.5 L703.5,276.5" stroke-width="0.9" fill="none" style="stroke:#fff" stroke-dasharray="1.2 1.8"/>
<path d="M668.4,300 Q672,297 671.2,300 M674,307.8 L681,308.5" stroke-width="1.3" fill="none" />
<path d="M636.2,323.2 L665,301.5 Q669,299 672,301.5 L675,306 L640,331 Z" stroke-width="1.4" fill="#fff" />
<path d="M636.2,323.2 L665,301.5" stroke-width="2.4" fill="none" />
<path d="M637,326.5 L671,302.5" stroke-width="1.2" fill="none" />
<path d="M652,314 L656,319.5 M660,307.5 L664,313" stroke-width="1.1" fill="none" />
<path d="M631.5,336.5 Q630,333 634,331 L674,307.8 L679.6,314.8 L641,350.5 Q637,352.5 634.5,349 Z" stroke-width="1.6" fill="#fff" />
<path d="M674,307.8 L679.6,314.8 L676,292.5 M679.6,314.8 L688,304" stroke-width="1.2" fill="none" />
<circle cx="641.8" cy="342" r="1.5" stroke-width="1.2" fill="#fff"/>
<circle cx="668.4" cy="319" r="1.5" stroke-width="1.2" fill="#fff"/>
<path d="M644.5,343.5 L652.5,346 M668.4,326 L671,332" stroke-width="1.0" fill="none" />
<ellipse cx="627.5" cy="337.5" rx="5.5" ry="8" transform="rotate(-35 627.5 337.5)" stroke-width="1.5" fill="#fff"/>
<ellipse cx="622" cy="333" rx="4.2" ry="6.5" transform="rotate(-35 622 333)" stroke-width="1.5" fill="#fff"/>
<ellipse cx="628" cy="325" rx="5.2" ry="4.2" transform="rotate(-35 628 325)" stroke-width="2.0" fill="#222"/>
<path d="M612,331 L640,308" stroke-width="2.2" fill="none" />
<ellipse cx="611.5" cy="334" rx="6.2" ry="3.6" transform="rotate(25 611.5 334)" stroke-width="1.6" fill="#fff"/>
<path d="M616,327 Q618,322.5 622,323" stroke-width="1.3" fill="none" />
<path d="M629.5,313.5 L634,308.5" stroke-width="5.2" fill="none" />
<polygon points="605.3,326.6 600.7,331.6 593.6,330.5 591.1,324.4 595.7,319.4 602.8,320.5" stroke-width="1.8" fill="#fff" />
<polygon points="607.1,324.4 602.5,329.4 595.4,328.3 592.9,322.2 597.5,317.2 604.6,318.3" stroke-width="1.8" fill="#fff" />
<ellipse cx="600" cy="323.3" rx="3.9600000000000004" ry="3.6" transform="rotate(0 600 323.3)" stroke-width="1.4" fill="#fff"/>
<ellipse cx="600" cy="323.3" rx="2.16" ry="1.9440000000000002" transform="rotate(0 600 323.3)" stroke-width="1.1" fill="#999"/>
<path d="M684,323.5 L703.5,331.5 Q707.5,333.5 706.5,336 Q705.5,338.5 701.5,337 L682,329 Q679.5,327.5 681,325 Q682,323 684,323.5 Z" stroke-width="1.5" fill="#fff" />
<path d="M690,326.5 Q692,329 690.5,332 M697,329.5 Q699,332 697.5,335" stroke-width="1.0" fill="none" />
<path d="M675,320.5 L681,323.5" stroke-width="1.1" fill="none" />
<path d="M712.5,337.5 Q717,335 718.5,339 Q719.5,343.5 715.5,344.5 Q712,344.5 712.5,340.5 Z" stroke-width="2.2" fill="#444" />
<ellipse cx="677.5" cy="366" rx="5.6" ry="6.4" transform="rotate(-30 677.5 366)" stroke-width="1.6" fill="#fff"/>
<ellipse cx="678.3" cy="366.5" rx="2.8" ry="3.4" transform="rotate(-30 678.3 366.5)" stroke-width="1.2" fill="#fff"/>
<polygon points="679.1,371.1 694.1,382.1 697.9,376.9 682.9,365.9" stroke-width="1.3" fill="#888" />
<line x1="679.7" y1="371.5" x2="686.1" y2="368.2" stroke-width="1.0" />
<line x1="681.6" y1="372.9" x2="687.9" y2="369.6" stroke-width="1.0" />
<line x1="683.4" y1="374.3" x2="689.8" y2="371.0" stroke-width="1.0" />
<line x1="685.3" y1="375.6" x2="691.7" y2="372.4" stroke-width="1.0" />
<line x1="687.2" y1="377.0" x2="693.6" y2="373.7" stroke-width="1.0" />
<line x1="689.1" y1="378.4" x2="695.4" y2="375.1" stroke-width="1.0" />
<line x1="690.9" y1="379.8" x2="697.3" y2="376.5" stroke-width="1.0" />
<circle cx="701.3" cy="382.5" r="6.6" stroke-width="1.6" fill="#fff"/>
<circle cx="702" cy="383.3" r="0.7" stroke-width="0.8" fill="#000"/>
<path d="M695.5,377 Q692.8,383.5 697.5,389" stroke-width="1.4" fill="none" />
<circle cx="524.8" cy="337.2" r="2.5" stroke-width="1.4" fill="#999"/>
<path d="M527,339.5 L537.5,348" stroke-width="1.1" fill="none" />
<path d="M550,374 Q539,362 540,357 Q543,350 551,351 Q556,353 560,359" stroke-width="1.5" fill="none" />
<path d="M556.5,369.5 L565,366.5 L589,396 L581,404.5 L555,382 Z" stroke-width="1.4" fill="#fff" />
<path d="M555,381.5 L581,404.5" stroke-width="3.6" fill="none" />
<path d="M575.5,391 L583.5,402 L589.5,396.5 L581.5,386.5 Z" stroke-width="1.2" fill="#1a1a1a" />
<path d="M577.5,394.5 L584.5,390 M580,398 L587,393" stroke-width="0.8" fill="none" style="stroke:#fff"/>
<circle cx="561" cy="372" r="2.5" stroke-width="1.6" fill="#333"/>
<path d="M566,375 L580,390" stroke-width="1.0" fill="none" stroke-dasharray="2.5 1.5"/>
<path d="M568,369 Q571,377 577,381" stroke-width="1.1" fill="none" />
<ellipse cx="596" cy="407.5" rx="6.9" ry="7.7" transform="rotate(-30 596 407.5)" stroke-width="2.4" fill="#fff"/>
<ellipse cx="596.6" cy="407.9" rx="1.6" ry="2.4" transform="rotate(-30 596.6 407.9)" stroke-width="1.6" fill="#444"/>
<path d="M602.5,414 L632.5,441" stroke-width="1.1" fill="none" />
<polygon points="626.2,432.3 623.6,436.4 618.4,436.4 615.8,432.3 618.4,428.2 623.6,428.2" stroke-width="2.2" fill="#fff" />
<ellipse cx="621.3" cy="432.6" rx="2.3400000000000003" ry="2.08" transform="rotate(0 621.3 432.6)" stroke-width="1.2" fill="#777"/>
<path d="M725,84.5 Q720.5,84 716,87.5 L668,128 Q665.5,130.5 664,134 L656.5,152 Q655.5,156 659.5,158 L712,185.5 Q716,187 719,184.5 L767,146.5 Q773,143.5 775.5,149 Q775,158 771.5,164 Q771.5,168.5 777,169 Q782,168.5 785,172 L791,180 Q793,182 796,180 L820,161.5 L816,144 Q814,135 810.5,128 L784,112.5 L731,85.5 Q728,84.3 725,84.5 Z" stroke-width="1.8" fill="#fff" />
<path d="M784,112.5 Q781,112 778,114.5 L728,153 Q726,155 724.5,158 L711,181" stroke-width="1.2" fill="none" />
<path d="M676,131 L717.5,151" stroke-width="1.2" fill="none" />
<path d="M656.5,152 Q655.5,156 659.5,158 L712,185.5 Q716,187 719,184.5" stroke-width="2.3" fill="none" />
<ellipse cx="792.5" cy="140.5" rx="2.6" ry="1.9" transform="rotate(-35 792.5 140.5)" stroke-width="1.2" fill="#fff"/>
<path d="M794,142 L797,143.5" stroke-width="1.0" fill="none" />
<path d="M749,72 L824,117.5 Q778,100 760,84 Q753,78 749,72 Z" stroke-width="1.5" fill="#fff" />
<polygon points="810.5,155.9 829.5,165.9 832.5,160.1 813.5,150.1" stroke-width="1.2" fill="#888" />
<line x1="811.1" y1="156.3" x2="817.1" y2="152.0" stroke-width="1.0" />
<line x1="813.2" y1="157.4" x2="819.2" y2="153.1" stroke-width="1.0" />
<line x1="815.3" y1="158.5" x2="821.3" y2="154.2" stroke-width="1.0" />
<line x1="817.4" y1="159.6" x2="823.4" y2="155.3" stroke-width="1.0" />
<line x1="819.6" y1="160.7" x2="825.6" y2="156.4" stroke-width="1.0" />
<line x1="821.7" y1="161.8" x2="827.7" y2="157.5" stroke-width="1.0" />
<line x1="823.8" y1="162.9" x2="829.8" y2="158.6" stroke-width="1.0" />
<line x1="825.9" y1="164.0" x2="831.9" y2="159.7" stroke-width="1.0" />
<path d="M832,158.5 L837.5,156.5 L835.5,175 L830.5,170.5 Z" stroke-width="1.5" fill="#fff" />
<path d="M837,156.8 Q845,156.5 848.5,163 Q851,170 846.5,174.5 Q841,177.5 835.8,175 Q833.5,166 837,156.8 Z" stroke-width="1.6" fill="#fff" />
<circle cx="843" cy="166.5" r="0.6" stroke-width="0.8" fill="#000"/>
<g transform="translate(0 0)">
<path d="M385,64 Q384.5,59 388,55 Q394,48.5 404,46.5 Q410.5,46 413,48.5 L429.5,95 Q430.5,98.5 427,100 L420,103.3 Q416.5,104.5 414.5,101.5 Z" stroke-width="1.9" fill="url(#spk)" />
<path d="M385.5,64.5 Q397,64.5 408,57 Q412.5,53 413,49" stroke-width="1.4" fill="none" />
</g>
<g transform="translate(477.5 223.5)">
<path d="M385,64 Q384.5,59 388,55 Q394,48.5 404,46.5 Q410.5,46 413,48.5 L429.5,95 Q430.5,98.5 427,100 L420,103.3 Q416.5,104.5 414.5,101.5 Z" stroke-width="1.9" fill="url(#spk)" />
<path d="M385.5,64.5 Q397,64.5 408,57 Q412.5,53 413,49" stroke-width="1.4" fill="none" />
</g>
<path d="M413,70 L424.5,68" stroke-width="1.0" fill="none" />
<path d="M273.2,538.8 L271.2,548 L278.8,548.5 L280.6,541.5" stroke-width="1.7" fill="#fff" />
<path d="M274.6,548 L270,572.5" stroke-width="12.5" fill="none" style="stroke-linecap:butt"/>
<path d="M274.6,548 L270,572.5" stroke-width="14" fill="none" style="stroke-linecap:butt" stroke-dasharray="3.2 1.5"/>
<line x1="271.4" y1="553.1" x2="276.0" y2="552.1" stroke-width="1.0" style="stroke:#fff"/>
<line x1="270.6" y1="557.7" x2="275.1" y2="556.7" stroke-width="1.0" style="stroke:#fff"/>
<line x1="269.7" y1="562.3" x2="274.3" y2="561.3" stroke-width="1.0" style="stroke:#fff"/>
<line x1="268.9" y1="566.9" x2="273.4" y2="565.9" stroke-width="1.0" style="stroke:#fff"/>
<line x1="268.0" y1="571.5" x2="272.6" y2="570.5" stroke-width="1.0" style="stroke:#fff"/>
<path d="M267,573 L274.5,574.5 L273.8,579 L266.2,577.5 Z" stroke-width="1.4" fill="#fff" />
<path d="M263.5,577 L273.5,579 L266.8,609.5 Q265,614.5 260.3,613.6 Q255.5,612.4 256.4,608 Z" stroke-width="1.9" fill="#fff" />
<path d="M263.5,577 L256.4,608" stroke-width="2.6" fill="none" />
<ellipse cx="295" cy="584.5" rx="15" ry="9.8" transform="rotate(8 295 584.5)" stroke-width="2.4" fill="#fff"/>
<ellipse cx="296.3" cy="584.5" rx="10" ry="5.8" transform="rotate(8 296.3 584.5)" stroke-width="2.2" fill="#fff"/>
<path d="M305.5,588.5 L310.5,590.5 L309,594 L304,592" stroke-width="2.0" fill="#222" />
<path d="M217.5,648.5 Q213.5,649.5 212.5,653.5 L200.5,708 Q199.5,713.5 204.5,715.5 L209,716.5 L236,710.5 L246,676 Z" stroke-width="1.7" fill="#fff" />
<path d="M219.5,652.5 Q216.5,653 215.5,656.5 L204,708.5 Q203.5,711.5 206.5,712.5" stroke-width="1.1" fill="none" />
<ellipse cx="214.5" cy="705.5" rx="3.0" ry="2.3" transform="rotate(-30 214.5 705.5)" stroke-width="1.3" fill="#fff"/>
<path d="M246,675.5 L336,656 Q337.5,659 337,663 L330.5,708 Q330,711.5 326.5,713 L253,743 L236.5,746.5 Q230.5,747 230,741.5 Q229.5,739 230.5,735 L244.5,680 Z" stroke-width="1.8" fill="#fff" />
<path d="M247.5,683.5 L334.8,665" stroke-width="1.3" fill="none" />
<path d="M248.5,679.5 L234,738 Q233.5,741.5 236.5,742.5" stroke-width="1.1" fill="none" />
<ellipse cx="243" cy="730.5" rx="3.0" ry="2.3" transform="rotate(-30 243 730.5)" stroke-width="1.3" fill="#fff"/>
<ellipse cx="315.7" cy="707.7" rx="3.0" ry="2.3" transform="rotate(-30 315.7 707.7)" stroke-width="1.3" fill="#fff"/>
<path d="M236.5,746.5 L253,743" stroke-width="2.4" fill="none" />
<path d="M217.5,648.5 L309.5,629.3 Q312.5,629 314.5,631 L335,654.5 Q336.5,656 336,656 L246,675.5 Q244,676.5 242.5,675 L216,652.5 Q214.5,650 217.5,648.5 Z" stroke-width="1.8" fill="#fff" />
<path d="M219.5,651.5 L244.5,672.5" stroke-width="1.1" fill="none" />
<path d="M296,632 L309.5,629.3 Q312.5,629 314.5,631" stroke-width="2.6" fill="none" />
<ellipse cx="237" cy="651.5" rx="2.7" ry="2.2" transform="rotate(-20 237 651.5)" stroke-width="1.3" fill="#bbb"/>
<ellipse cx="240.7" cy="659" rx="2.7" ry="2.2" transform="rotate(-20 240.7 659)" stroke-width="1.3" fill="#bbb"/>
<ellipse cx="246.7" cy="665.7" rx="2.7" ry="2.2" transform="rotate(-20 246.7 665.7)" stroke-width="1.3" fill="#bbb"/>
<ellipse cx="308.2" cy="635.7" rx="2.7" ry="2.2" transform="rotate(-20 308.2 635.7)" stroke-width="1.3" fill="#bbb"/>
<ellipse cx="314.2" cy="642.5" rx="2.7" ry="2.2" transform="rotate(-20 314.2 642.5)" stroke-width="1.3" fill="#bbb"/>
<ellipse cx="319.5" cy="650" rx="2.7" ry="2.2" transform="rotate(-20 319.5 650)" stroke-width="1.3" fill="#bbb"/>
<ellipse cx="244.5" cy="641.2" rx="2.4" ry="1.6" transform="rotate(-10 244.5 641.2)" stroke-width="1.1" fill="#fff"/>
<ellipse cx="279.5" cy="651.5" rx="16.5" ry="8" transform="rotate(6 279.5 651.5)" stroke-width="1.5" fill="#fff"/>
<ellipse cx="280" cy="650.5" rx="13.5" ry="6.3" transform="rotate(6 280 650.5)" stroke-width="1.3" fill="#fff"/>
<path d="M275.5,606.5 L268.5,647.7 Q279,655.5 293.2,650 L300.7,608.7 Z" stroke-width="1.5" fill="#fff" />
<path d="M268.5,647.7 Q279,655.5 293.2,650" stroke-width="2.0" fill="none" />
<ellipse cx="288" cy="605.8" rx="12.7" ry="6.6" transform="rotate(6 288 605.8)" stroke-width="1.6" fill="#fff"/>
<path d="M275,611.5 Q286,620.5 300,613.5" stroke-width="1.6" fill="none" />
<path d="M274.3,614.5 Q286,623.5 299.5,616.5" stroke-width="1.1" fill="none" />
<path d="M272,627 Q283,635 297,629.5" stroke-width="1.3" fill="none" />
<path d="M270,639.5 Q281,647.5 295,641.5" stroke-width="1.3" fill="none" />
<path d="M276,607.5 L269,647" stroke-width="2.2" fill="none" />
<path d="M102.8,660.4 L134.5,694 Q138.5,696.5 141.5,693.5 Q144,691 141.9,687.8 L112,654.5 Z" stroke-width="1.5" fill="#fff" />
<path d="M102.8,660.4 L134.5,694" stroke-width="2.0" fill="none" />
<line x1="129.9" y1="676.0" x2="126.5" y2="682.2" stroke-width="0.8" />
<line x1="132.2" y1="678.5" x2="128.8" y2="684.7" stroke-width="0.8" />
<line x1="134.5" y1="681.0" x2="131.1" y2="687.2" stroke-width="0.8" />
<line x1="136.8" y1="683.5" x2="133.4" y2="689.7" stroke-width="0.8" />
<line x1="139.1" y1="686.0" x2="135.7" y2="692.2" stroke-width="0.8" />
<line x1="141.4" y1="688.5" x2="138.0" y2="694.7" stroke-width="0.8" />
<path d="M99.5,656.5 L103,661.5 L112.5,655 L110.5,649" stroke-width="1.4" fill="#fff" />
<ellipse cx="105.3" cy="652.6" rx="6.8" ry="5.6" transform="rotate(35 105.3 652.6)" stroke-width="1.6" fill="#fff"/>
<ellipse cx="151" cy="703.8" rx="17" ry="12.5" transform="rotate(-43 151 703.8)" stroke-width="1.7" fill="#fff"/>
<ellipse cx="152.6" cy="705.4" rx="13.2" ry="8.8" transform="rotate(-43 152.6 705.4)" stroke-width="1.1" fill="#fff"/>
<path d="M156.5,697.3 L167,708.3 Q169,711.8 166.5,716.3 Q163,720.3 158,718.3 L148,709.3 Q149.5,701.8 156.5,697.3 Z" stroke-width="1.5" fill="#fff" />
<path d="M148,709.3 L158,718.3" stroke-width="2.0" fill="none" />
<ellipse cx="162.6" cy="714.4" rx="5.6" ry="4.2" transform="rotate(-43 162.6 714.4)" stroke-width="1.3" fill="#fff"/>
<path d="M153.5,713.8 Q154.5,706.8 162,703.3" stroke-width="1.1" fill="none" />
<ellipse cx="175.2" cy="730.7" rx="16.8" ry="14.2" transform="rotate(-43 175.2 730.7)" stroke-width="1.7" fill="#fff"/>
<ellipse cx="177.2" cy="732.7" rx="16.6" ry="14" transform="rotate(-43 177.2 732.7)" stroke-width="1.7" fill="#fff"/>
<path d="M162.7,722.2 L164.7,724.2 M189.2,742.7 L187.2,744.7" stroke-width="1.0" fill="none" style="stroke:#fff"/>
<ellipse cx="179.29999999999998" cy="735.4000000000001" rx="12.4" ry="8.2" transform="rotate(-43 179.29999999999998 735.4000000000001)" stroke-width="1.0" fill="#fff"/>
<ellipse cx="179.5" cy="735.6" rx="10.6" ry="6.8" transform="rotate(-43 179.5 735.6)" stroke-width="0.9" fill="#fff"/>
<ellipse cx="179.7" cy="735.8000000000001" rx="8.0" ry="4.6" transform="rotate(-43 179.7 735.8000000000001)" stroke-width="1.4" fill="#fff"/>
<path d="M173.5,739.0 Q175.7,734.2 182.7,730.7" stroke-width="1.0" fill="none" />
<ellipse cx="199.9" cy="757.1" rx="16.8" ry="14.2" transform="rotate(-43 199.9 757.1)" stroke-width="1.7" fill="#fff"/>
<ellipse cx="201.9" cy="759.1" rx="16.6" ry="14" transform="rotate(-43 201.9 759.1)" stroke-width="1.7" fill="#fff"/>
<path d="M187.4,748.6 L189.4,750.6 M213.9,769.1 L211.9,771.1" stroke-width="1.0" fill="none" style="stroke:#fff"/>
<ellipse cx="204.0" cy="761.8000000000001" rx="12.4" ry="8.2" transform="rotate(-43 204.0 761.8000000000001)" stroke-width="1.0" fill="#fff"/>
<ellipse cx="204.20000000000002" cy="762.0" rx="10.6" ry="6.8" transform="rotate(-43 204.20000000000002 762.0)" stroke-width="0.9" fill="#fff"/>
<ellipse cx="204.4" cy="762.2" rx="8.0" ry="4.6" transform="rotate(-43 204.4 762.2)" stroke-width="1.4" fill="#fff"/>
<path d="M198.20000000000002,765.4 Q200.4,760.6 207.4,757.1" stroke-width="1.0" fill="none" />
<path d="M223.0,785.5 L214.0,776.5 Q212.0,773.0 215.0,770.5 Q218.5,768.5 221.5,771.0 L229.5,779.5 Z" stroke-width="1.5" fill="#fff" />
<path d="M223.0,785.5 L214.0,776.5 Q212.0,773.0 215.0,770.5" stroke-width="2.0" fill="none" />
<ellipse cx="225.0" cy="787.0" rx="17" ry="12.5" transform="rotate(-43 225.0 787.0)" stroke-width="1.4" fill="#fff"/>
<ellipse cx="226.5" cy="788.5" rx="17" ry="12.5" transform="rotate(-43 226.5 788.5)" stroke-width="1.7" fill="#fff"/>
<ellipse cx="227.0" cy="789.0" rx="9.2" ry="6.2" transform="rotate(-43 227.0 789.0)" stroke-width="1.2" fill="#fff"/>
<ellipse cx="227.3" cy="789.4" rx="5.4" ry="3.3" transform="rotate(-43 227.3 789.4)" stroke-width="1.3" fill="#fff"/>
<polygon points="247.3,808.5 241.8,812.7 235.0,810.5 233.7,804.1 239.2,799.9 246.0,802.1" stroke-width="1.5" fill="#fff" />
<polygon points="249.3,806.7 243.8,810.9 237.0,808.7 235.7,802.3 241.2,798.1 248.0,800.3" stroke-width="1.5" fill="#fff" />
<ellipse cx="242.5" cy="804.5" rx="3.744" ry="3.3120000000000003" transform="rotate(0 242.5 804.5)" stroke-width="1.2" fill="#aaa"/>
</g>
<g class="d" fill="none">
<path d="M359,64 L359,163" stroke-width="1.6" fill="none"/>
<path d="M440,57 L440,77 L421,82" stroke-width="1.6" fill="none"/>
<path d="M463,57 L463,129.5 L451,141" stroke-width="1.6" fill="none"/>
<path d="M514,57 L514,195" stroke-width="1.6" fill="none"/>
<path d="M534,57 L534,210.5 L526.5,223.5" stroke-width="1.6" fill="none"/>
<path d="M564,79 L564,189.5 L539,231.5" stroke-width="1.6" fill="none"/>
<path d="M585.2,60 L585.2,210.5" stroke-width="1.6" fill="none"/>
<path d="M616.8,59 L616.8,219" stroke-width="1.6" fill="none"/>
<path d="M704,53 L704,110" stroke-width="1.6" fill="none"/>
<path d="M789,53 L789,90" stroke-width="1.6" fill="none"/>
<path d="M849,167 L896,167" stroke-width="1.6" fill="none"/>
<path d="M879.5,235 L879.5,271" stroke-width="1.6" fill="none"/>
<path d="M204,115 L256,115 L236,150" stroke-width="1.6" fill="none"/>
<path d="M144,161 L191,161" stroke-width="1.6" fill="none"/>
<path d="M189,201 L226,201" stroke-width="1.6" fill="none"/>
<path d="M262,195.5 L262,221" stroke-width="1.6" fill="none"/>
<path d="M476,230 L510,257.5" stroke-width="1.6" fill="none"/>
<path d="M394,322 L394,388" stroke-width="1.6" fill="none"/>
<path d="M312,360 L346,392" stroke-width="1.6" fill="none"/>
<path d="M696,217.5 L634,310" stroke-width="1.6" fill="none"/>
<path d="M642,246 L609,320" stroke-width="1.6" fill="none"/>
<path d="M751,255 L779.5,255" stroke-width="1.6" fill="none"/>
<path d="M687.5,304 L779,304" stroke-width="1.6" fill="none"/>
<path d="M700,327 L779,327" stroke-width="1.6" fill="none"/>
<path d="M720,342.5 L730,347 L779,347" stroke-width="1.6" fill="none"/>
<path d="M651,378 L670,369.5" stroke-width="1.6" fill="none"/>
<path d="M654,401 L689,385" stroke-width="1.6" fill="none"/>
<path d="M592,416 L592,446" stroke-width="1.6" fill="none"/>
<path d="M617.5,442.5 L617.5,532.5 L689,510" stroke-width="1.6" fill="none"/>
<path d="M690,474 L752.5,474 L724,502.5" stroke-width="1.6" fill="none"/>
<path d="M475.5,413 L475.5,476" stroke-width="1.6" fill="none"/>
<path d="M96,444 L110,431" stroke-width="1.6" fill="none"/>
<path d="M145,484.5 L165.5,465" stroke-width="1.6" fill="none"/>
<path d="M220,431 L296,431" stroke-width="1.6" fill="none"/>
<path d="M89.6,525 L190,525" stroke-width="1.6" fill="none"/>
<path d="M220,562 L265,562" stroke-width="1.6" fill="none"/>
<path d="M219,606 L255,606" stroke-width="1.6" fill="none"/>
<path d="M311,592 L421,592" stroke-width="1.6" fill="none"/>
<path d="M149,625 L130,665" stroke-width="1.6" fill="none"/>
<path d="M95,736 L134,712" stroke-width="1.6" fill="none"/>
<path d="M160,748 L121,772" stroke-width="1.6" fill="none"/>
<path d="M121,780 L182.5,769" stroke-width="1.6" fill="none"/>
<path d="M277.5,734 L419,734" stroke-width="1.6" fill="none"/>
<path d="M247.5,777.5 L307.5,764" stroke-width="1.6" fill="none"/>
<path d="M257.5,801.5 L315,801.5" stroke-width="1.6" fill="none"/>
<path d="M530,386 L540,382" stroke-width="1.6" fill="none"/>
</g>
<g class="lb" style="will-change:opacity;opacity:0.999">
<text x="359" y="53.9" font-size="19.5" >1</text>
<text x="440" y="53.9" font-size="19.5" >2</text>
<text x="462" y="53.9" font-size="19.5" >3</text>
<text x="510.5" y="53.9" font-size="19.5" >4</text>
<text x="533" y="53.9" font-size="19.5" >5</text>
<text x="585.5" y="54.1" font-size="19.5" >6</text>
<text x="619.3" y="54.1" font-size="19.5" >7</text>
<text x="564" y="76.9" font-size="19.5" >40</text>
<text x="704" y="49.4" font-size="19.5" >43</text>
<text x="789" y="49.4" font-size="19.5" >42</text>
<text x="912" y="174.4" font-size="19.5" >39</text>
<text x="879" y="230.9" font-size="19.5" >2</text>
<text x="257.5" y="112.9" font-size="19.5" >33</text>
<text x="129.5" y="171.9" font-size="19.5" >17</text>
<text x="177" y="207.9" font-size="19.5" >5</text>
<text x="268" y="188.9" font-size="19.5" >34</text>
<text x="465" y="229.4" font-size="19.5" >32</text>
<text x="393" y="317.9" font-size="19.5" >18</text>
<text x="301" y="359.9" font-size="19.5" >36</text>
<text x="701" y="214.4" font-size="19.5" >8</text>
<text x="788" y="260.9" font-size="19.5" >9</text>
<text x="794" y="308.9" font-size="19.5" >10</text>
<text x="792.5" y="333.9" font-size="19.5" >11</text>
<text x="794" y="352.9" font-size="19.5" >12</text>
<text x="639" y="386.9" font-size="19.5" >41</text>
<text x="640" y="407.9" font-size="19.5" >37</text>
<text x="591" y="464.9" font-size="19.5" >5</text>
<text x="602" y="541.9" font-size="19.5" >17</text>
<text x="769" y="479.4" font-size="19.5" >14</text>
<text x="476" y="493.9" font-size="19.5" >16</text>
<text x="83" y="460.9" font-size="19.5" >19</text>
<text x="128" y="495.9" font-size="19.5" >20</text>
<text x="204.5" y="439.4" font-size="19.5" >24</text>
<text x="204" y="531.9" font-size="19.5" >31</text>
<text x="204.5" y="568.9" font-size="19.5" >25</text>
<text x="205" y="613.9" font-size="19.5" >26</text>
<text x="437.5" y="597.9" font-size="19.5" >23</text>
<text x="150" y="618.4" font-size="19.5" >27</text>
<text x="79" y="744.9" font-size="19.5" >29</text>
<text x="102" y="785.4" font-size="19.5" >30</text>
<text x="439" y="741.9" font-size="19.5" >22</text>
<text x="322.5" y="766.9" font-size="19.5" >29</text>
<text x="329" y="803.4" font-size="19.5" >21</text>
<text x="528" y="403.9" font-size="19.5" >13</text>
<text x="645" y="240.9" font-size="19.5" >38</text>
</g>
<g style="will-change:opacity;opacity:0.999">
<text x="349.4" y="604.7" transform="rotate(-47.5 349.4 604.7)" font-family="Liberation Sans, sans-serif" font-size="81" fill="#b9d58f">HobbyStore.it</text><text x="910.8" y="774.2" font-family="Liberation Sans, sans-serif" font-size="20" fill="#2a2a2a" text-anchor="middle">07/06</text>
</g>
</svg>
</body></html>
